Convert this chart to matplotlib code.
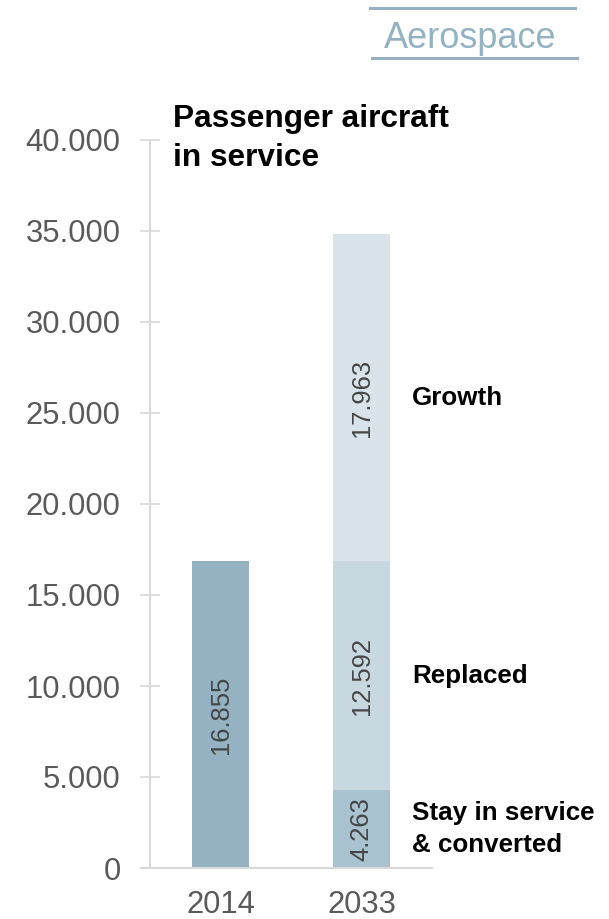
import numpy as np
import matplotlib
matplotlib.use("Agg")
import matplotlib.pyplot as plt
from matplotlib.lines import Line2D

plt.rcParams['font.family'] = ['Liberation Sans', 'DejaVu Sans']

years = ["2014", "2033"]
fleet_2014 = [16855]
stay = [4263]
replaced = [12592]
growth = [17963]
segment_names = ["Stay in service\n& converted", "Replaced", "Growth"]
y_ticks = [0, 5000, 10000, 15000, 20000, 25000, 30000, 35000, 40000]
y_tick_labels = ["0", "5.000", "10.000", "15.000", "20.000", "25.000", "30.000", "35.000", "40.000"]


def fmt(v):
    return f"{v:,}".replace(",", ".")


W, H = 609, 919
fig = plt.figure(figsize=(W / 100, H / 100), dpi=100)

# axes box in pixel terms: x from 141 to 432, y from 868 (0) to 140 (40000)
ax = fig.add_axes([141 / W, (H - 868) / H, (432 - 141) / W, (868 - 140) / H])
ax.set_xlim(-0.564, 1.5)
ax.set_ylim(0, 40000)

c_2014 = "#94b2c2"
c_stay = "#a9c2cf"
c_repl = "#c7d8e1"
c_grow = "#d9e4ea"
bw = 0.404

ax.bar([0], fleet_2014, width=bw, color=c_2014, zorder=2)
ax.bar([1], stay, width=bw, color=c_stay, zorder=2)
ax.bar([1], replaced, width=bw, bottom=stay, color=c_repl, zorder=2)
ax.bar([1], growth, width=bw, bottom=np.add(stay, replaced), color=c_grow, zorder=2)

val_style = dict(rotation=90, ha="center", va="center", fontsize=18.4, color="#454545")
ax.text(0, fleet_2014[0] / 2, fmt(fleet_2014[0]), **val_style)

bottoms = [0, stay[0], stay[0] + replaced[0]]
heights = [stay[0], replaced[0], growth[0]]
for b, h, name in zip(bottoms, heights, segment_names):
    ax.text(1, b + h / 2, fmt(h), **val_style)
    ax.annotate(name, xy=(1 + bw / 2, b + h / 2), xytext=(16, 0),
                textcoords="offset points", ha="left", va="center",
                fontsize=18.7, fontweight="bold", color="black",
                linespacing=1.45, annotation_clip=False)

for s in ["top", "right"]:
    ax.spines[s].set_visible(False)
ax.spines["left"].set_position(("data", -0.5))
ax.spines["left"].set_color("#d9d9d9")
ax.spines["left"].set_linewidth(1.5)
ax.spines["bottom"].set_color("#d9d9d9")
ax.spines["bottom"].set_linewidth(1.5)

ax.set_yticks(y_ticks)
ax.set_yticklabels(y_tick_labels)
ax.tick_params(axis="y", direction="inout", length=14.4, width=1.2, color="#d9d9d9",
               labelsize=22.3, labelcolor="#5a5a5a", pad=14)
ax.set_xticks([0, 1])
ax.set_xticklabels(years)
ax.tick_params(axis="x", length=0, labelsize=22.3, labelcolor="#5a5a5a", pad=15.5)

fig.text(173 / W, 1 - 104 / H, "Passenger aircraft\nin service", ha="left", va="top",
         fontsize=22.8, fontweight="bold", color="black", linespacing=1.38)

# header tag
hdr = "#93b3c4"
fig.text(470 / W, 1 - 39 / H, "Aerospace", ha="center", va="center",
         fontsize=26, color=hdr)
fig.add_artist(Line2D([370 / W, 575 / W], [1 - 8 / H, 1 - 8 / H], color=hdr, lw=2.2))
fig.add_artist(Line2D([372 / W, 577 / W], [1 - 58 / H, 1 - 58 / H], color=hdr, lw=2.2))

fig.savefig("out.png", dpi=100)
